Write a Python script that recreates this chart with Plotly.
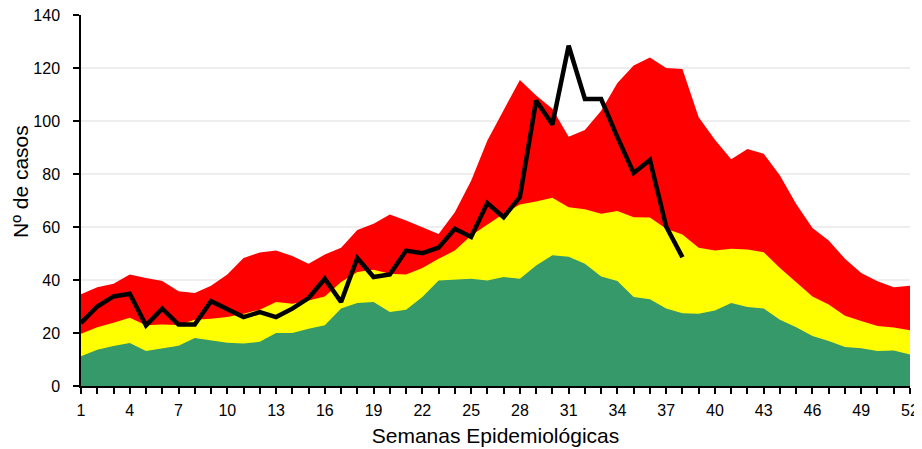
import plotly.graph_objects as go

weeks = list(range(1, 53))

# Upper limit (red band top)
red_top = [34.6, 37.3, 38.6, 42.1, 40.8, 39.6, 35.8, 35.1, 37.8, 42.1,
           48.3, 50.4, 51.1, 49.1, 46.1, 49.6, 52.2, 58.9, 61.2, 64.7,
           62.5, 59.9, 57.4, 65.6, 77.5, 92.6, 103.9, 115.5, 109.6, 104.6,
           94.1, 96.6, 103.9, 114.3, 120.9, 124.0, 120.0, 119.6, 101.4, 92.9,
           85.6, 89.4, 87.6, 79.4, 68.7, 59.6, 54.9, 48.0, 42.6, 39.5,
           37.3, 37.8]

# Middle limit (yellow band top)
yellow_top = [19.7, 22.2, 23.9, 25.8, 22.9, 23.2, 23.0, 25.0, 25.4, 26.0,
              27.3, 28.8, 31.7, 31.0, 32.3, 33.8, 39.2, 43.0, 43.9, 42.4,
              42.1, 44.5, 48.0, 51.1, 56.8, 61.0, 65.0, 68.5, 69.6, 71.0,
              67.5, 66.7, 65.0, 66.0, 63.7, 63.6, 59.3, 57.2, 52.2, 51.1,
              51.8, 51.5, 50.5, 44.5, 39.2, 33.8, 30.8, 26.5, 24.5, 22.6,
              22.1, 21.0]

# Lower limit (green band top)
green_top = [11.2, 13.7, 15.1, 16.2, 13.2, 14.2, 15.2, 18.1, 17.2, 16.3,
             16.0, 16.7, 20.0, 20.0, 21.6, 22.9, 29.2, 31.3, 31.7, 27.9,
             28.8, 33.6, 39.8, 40.1, 40.5, 39.8, 41.1, 40.5, 45.5, 49.3,
             48.8, 46.1, 41.3, 39.6, 33.6, 32.7, 29.2, 27.5, 27.3, 28.5,
             31.3, 29.8, 29.2, 25.0, 22.2, 18.9, 17.0, 14.7, 14.2, 13.2,
             13.4, 11.9]

# Current season cases
current_weeks = list(range(1, 39))
current_cases = [23.8, 30.0, 33.8, 34.8, 22.9, 29.2, 23.2, 23.2, 32.0, 29.2,
                 26.0, 27.9, 26.0, 29.2, 33.2, 40.5, 31.7, 48.3, 41.1, 42.1,
                 51.1, 50.1, 52.2, 59.3, 56.2, 69.0, 63.7, 71.3, 107.7, 98.7,
                 128.4, 108.3, 108.3, 93.9, 80.4, 85.3, 60.2, 48.6]

x_tick_vals = list(range(1, 53, 3))
x_tick_text = [str(v) for v in x_tick_vals]

fig = go.Figure()
fig.add_trace(go.Scatter(x=weeks, y=red_top, mode="lines", line=dict(width=0, color="#FF0000"),
                         fill="tozeroy", fillcolor="#FF0000", showlegend=False, hoverinfo="skip"))
fig.add_trace(go.Scatter(x=weeks, y=yellow_top, mode="lines", line=dict(width=0, color="#FFFF00"),
                         fill="tozeroy", fillcolor="#FFFF00", showlegend=False, hoverinfo="skip"))
fig.add_trace(go.Scatter(x=weeks, y=green_top, mode="lines", line=dict(width=0, color="#36996A"),
                         fill="tozeroy", fillcolor="#36996A", showlegend=False, hoverinfo="skip"))
fig.add_trace(go.Scatter(x=current_weeks, y=current_cases, mode="lines",
                         line=dict(width=4.5, color="#000000"), showlegend=False))

fig.update_layout(
    template="none",
    width=914, height=441,
    margin=dict(l=73, r=12, t=7, b=63, autoexpand=False),
    paper_bgcolor="white", plot_bgcolor="white",
    font=dict(family="Liberation Sans, Arial, sans-serif", color="#000000", size=16),
    xaxis=dict(
        range=[1, 52], tickmode="array", tickvals=x_tick_vals, ticktext=x_tick_text,
        automargin=False, ticklabeloverflow="allow", ticklabelstandoff=3,
        showgrid=False, zeroline=False, showline=True, linecolor="#000000", linewidth=1.5,
        ticks="outside", ticklen=6, tickwidth=1.5, tickcolor="#000000",
        minor=dict(dtick=1, tick0=1, ticks="outside", ticklen=6, tickwidth=1.5,
                   tickcolor="#000000", showgrid=False),
        tickfont=dict(size=16),
        title=dict(text="Semanas Epidemiológicas", font=dict(size=21), standoff=10),
    ),
    yaxis=dict(
        range=[0, 140], dtick=20, tick0=0,
        automargin=False, ticklabeloverflow="allow", ticklabelstandoff=10,
        showgrid=True, gridcolor="#EEEEEE", gridwidth=1.5,
        zeroline=False, showline=True, linecolor="#000000", linewidth=1.5,
        ticks="outside", ticklen=6, tickwidth=1.5, tickcolor="#000000",
        tickfont=dict(size=16),
    ),
    annotations=[dict(
        text="Nº de casos", textangle=-90, font=dict(size=21),
        xref="paper", yref="paper", x=0, y=0.55, xanchor="center", yanchor="middle",
        xshift=-60, showarrow=False,
    )],
)

fig.write_html("out.html")
